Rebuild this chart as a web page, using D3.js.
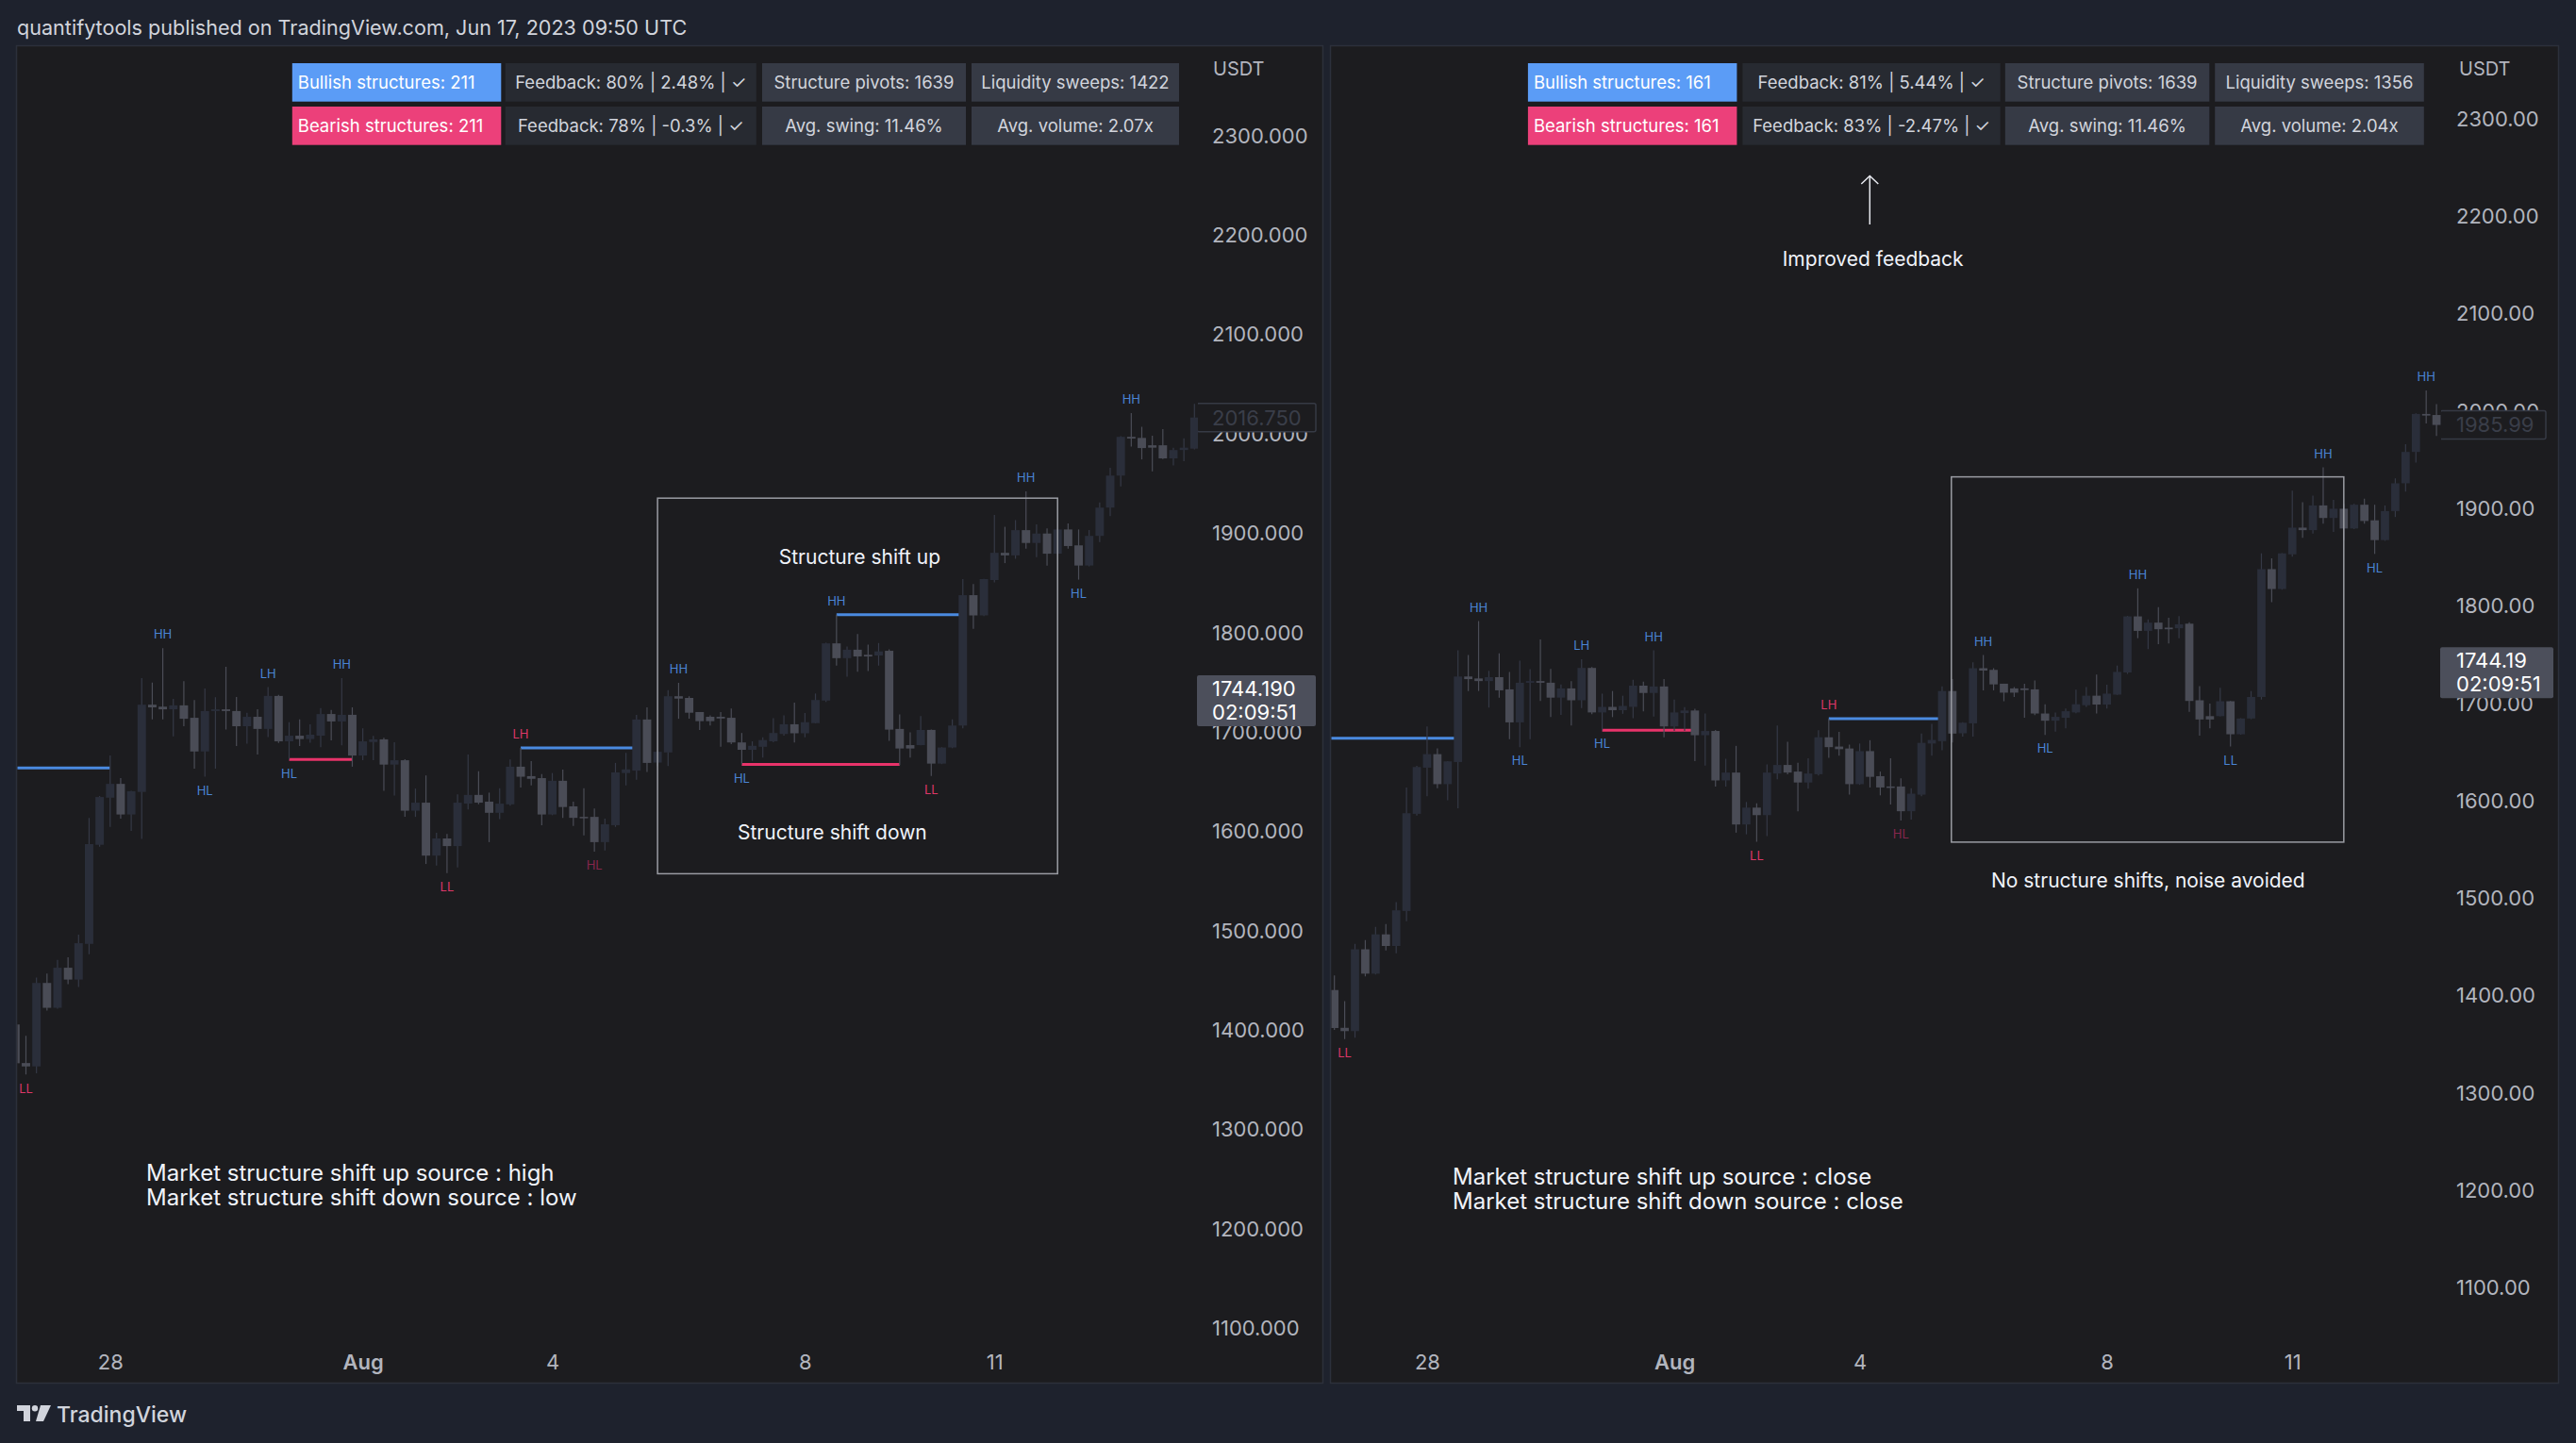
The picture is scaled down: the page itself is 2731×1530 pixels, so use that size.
<!DOCTYPE html>
<html>
<head>
<meta charset="utf-8">
<script src="https://cdn.jsdelivr.net/npm/d3@7"></script>
<style>
  body { margin: 0; background: #1e222d; }
  svg { display: block; }
</style>
</head>
<body>
<svg id="chart" width="2731" height="1530"></svg>
<script>
// 4h candles, index 0 = first full candle on the left (Jul 26 16:00)
var candleStart = -1
var opens = [
    1406.0,
    1367.2, 1363.8, 1447.8, 1422.8, 1463.1, 1451.2, 1487.1, 1586.8, 1634.2, 1648.1,
    1617.3, 1640.0, 1727.8, 1725.8, 1723.1, 1727.1, 1714.6, 1680.7, 1721.4, 1723.1,
    1721.4, 1706.1, 1715.6, 1703.4, 1736.6, 1690.9, 1696.6, 1693.2, 1696.6, 1718.4,
    1710.9, 1717.6, 1676.6, 1690.2, 1692.9, 1667.5, 1671.9, 1621.1, 1629.2, 1575.9,
    1593.2, 1585.5, 1628.2, 1637.0, 1630.2, 1619.0, 1627.5, 1665.4, 1655.9, 1653.9,
    1617.3, 1651.2, 1625.5, 1614.9, 1614.9, 1589.5, 1606.5, 1659.0, 1661.4, 1712.9,
    1669.5, 1679.7, 1736.3, 1734.6, 1720.4, 1715.6, 1715.6, 1714.6, 1689.8, 1682.4,
    1685.4, 1690.9, 1698.3, 1708.1, 1699.0, 1709.2, 1731.9, 1789.5, 1774.6, 1783.1,
    1778.0, 1777.3, 1782.0, 1703.4, 1687.1, 1687.1, 1702.4, 1668.5, 1684.7, 1706.8,
    1838.0, 1817.6, 1853.2, 1880.6, 1878.0, 1903.4, 1890.5, 1900.0, 1879.7, 1904.1,
    1888.1, 1867.8, 1897.6, 1926.1, 1958.3, 1997.3, 1996.2, 1988.8, 1988.8, 1975.6,
    1984.0, 1985.4
]
var highs = [
    1421.0,
    1394.6, 1453.3, 1457.3, 1470.9, 1473.6, 1496.3, 1613.9, 1636.0, 1676.6, 1653.9,
    1641.0, 1754.6, 1749.9, 1784.7, 1733.6, 1751.5, 1732.5, 1744.1, 1735.3, 1765.8,
    1735.6, 1719.7, 1723.1, 1745.4, 1737.6, 1710.2, 1712.9, 1708.1, 1724.4, 1722.4,
    1754.6, 1725.1, 1704.1, 1696.3, 1694.6, 1689.9, 1672.9, 1643.4, 1656.6, 1599.0,
    1597.6, 1637.6, 1677.6, 1660.7, 1639.3, 1643.8, 1672.6, 1684.4, 1670.9, 1658.0,
    1659.0, 1662.4, 1630.2, 1643.8, 1623.4, 1613.2, 1669.2, 1679.3, 1717.6, 1725.1,
    1681.0, 1742.4, 1749.8, 1736.3, 1720.4, 1717.0, 1720.4, 1723.8, 1699.3, 1690.9,
    1695.0, 1714.3, 1717.0, 1729.8, 1719.3, 1739.0, 1790.0, 1818.3, 1786.4, 1799.0,
    1788.1, 1789.8, 1783.4, 1718.0, 1700.0, 1716.3, 1702.7, 1685.0, 1712.9, 1854.2,
    1849.1, 1854.5, 1918.6, 1906.8, 1913.5, 1942.4, 1909.1, 1905.1, 1905.0, 1910.2,
    1904.1, 1903.4, 1931.2, 1966.1, 1998.0, 2021.3, 2007.4, 1998.3, 2005.1, 1986.4,
    1995.9, 2030.5
]
var lows = [
    1365.0,
    1355.6, 1357.0, 1420.0, 1422.0, 1446.5, 1443.8, 1476.6, 1585.0, 1604.8, 1613.2,
    1600.7, 1592.6, 1712.9, 1712.9, 1695.9, 1706.1, 1663.4, 1655.3, 1663.4, 1702.7,
    1686.1, 1688.5, 1677.6, 1695.3, 1689.2, 1672.6, 1686.1, 1689.5, 1685.1, 1691.9,
    1686.8, 1665.4, 1671.9, 1671.9, 1641.0, 1636.3, 1614.9, 1614.9, 1567.5, 1565.8,
    1558.3, 1564.1, 1622.4, 1627.5, 1589.5, 1612.6, 1626.1, 1644.4, 1646.5, 1606.5,
    1616.6, 1613.9, 1605.8, 1596.3, 1580.0, 1581.0, 1604.8, 1646.5, 1652.2, 1660.0,
    1666.0, 1666.1, 1713.6, 1713.6, 1702.4, 1706.8, 1685.4, 1688.1, 1667.8, 1671.2,
    1674.6, 1690.0, 1696.6, 1689.8, 1694.9, 1709.0, 1730.5, 1767.1, 1756.0, 1761.0,
    1761.7, 1767.1, 1691.5, 1667.0, 1674.6, 1687.0, 1656.0, 1668.0, 1684.0, 1704.1,
    1804.1, 1817.0, 1850.8, 1870.2, 1874.6, 1884.7, 1876.2, 1867.8, 1879.0, 1884.7,
    1853.6, 1867.0, 1891.5, 1917.6, 1947.4, 1987.4, 1974.6, 1962.7, 1975.0, 1968.5,
    1972.9, 1984.7
]
var closes = [
    1367.0,
    1363.8, 1447.8, 1422.8, 1463.1, 1451.2, 1487.8, 1587.5, 1634.9, 1648.1, 1617.3,
    1640.7, 1727.8, 1725.1, 1723.1, 1727.1, 1713.6, 1680.7, 1721.4, 1723.1, 1721.4,
    1706.1, 1715.6, 1703.4, 1736.6, 1690.9, 1696.6, 1693.2, 1697.6, 1718.4, 1710.9,
    1717.6, 1676.6, 1690.9, 1692.9, 1667.5, 1671.9, 1621.1, 1629.2, 1575.9, 1593.2,
    1585.5, 1629.2, 1637.0, 1629.2, 1619.0, 1628.2, 1665.4, 1655.3, 1653.2, 1617.3,
    1651.2, 1624.8, 1613.9, 1613.9, 1589.5, 1607.5, 1659.7, 1662.7, 1712.9, 1669.2,
    1680.4, 1736.3, 1733.9, 1719.7, 1711.2, 1711.2, 1713.9, 1689.8, 1682.4, 1686.4,
    1692.2, 1699.3, 1708.1, 1699.0, 1710.2, 1732.5, 1789.5, 1774.6, 1783.1, 1776.3,
    1776.3, 1781.4, 1702.7, 1683.7, 1683.7, 1702.4, 1668.5, 1684.7, 1706.8, 1838.0,
    1817.6, 1854.2, 1880.6, 1878.0, 1903.4, 1890.5, 1900.0, 1879.7, 1904.1, 1887.4,
    1867.8, 1897.6, 1926.1, 1958.3, 1997.3, 1995.6, 1985.99, 1986.4, 1975.6, 1984.0,
    1986.4, 2016.75
]

var priceTicks = [1100, 1200, 1300, 1400, 1500, 1600, 1700, 1800, 1900, 2000, 2100, 2200, 2300]
var dateTickIndex = [8, 32, 50, 74, 92]
var dateTickLabels = ["28", "Aug", "4", "8", "11"]
var currentPrice = 1744.19
var countdown = "02:09:51"

// structure pivots: [index, label, kind]
var pivotsLeft = [
    [0, "LL", "bear"], [13, "HH", "bull"], [17, "HL", "bull"], [23, "LH", "bull"],
    [25, "HL", "bull"], [30, "HH", "bull"], [40, "LL", "bear"], [47, "LH", "bear"],
    [54, "HL", "dim"], [62, "HH", "bull"], [68, "HL", "bull"], [77, "HH", "bull"],
    [86, "LL", "bear"], [95, "HH", "bull"], [100, "HL", "bull"], [105, "HH", "bull"]
]
var pivotsRight = [
    [0, "LL", "bear"], [13, "HH", "bull"], [17, "HL", "bull"], [23, "LH", "bull"],
    [25, "HL", "bull"], [30, "HH", "bull"], [40, "LL", "bear"], [47, "LH", "bear"],
    [54, "HL", "dim"], [62, "HH", "bull"], [68, "HL", "bull"], [77, "HH", "bull"],
    [86, "LL", "bull"], [95, "HH", "bull"], [100, "HL", "bull"], [105, "HH", "bull"]
]
// structure levels: [from index, to index, price, kind]
var levelsLeft = [
    [-3, 8, 1664.1, "bull"], [25, 31, 1672.6, "bear"],
    [47, 58, 1684.4, "bull"], [68, 83, 1667.8, "bear"], [77, 89, 1818.3, "bull"]
]
var levelsRight = [
    [-3, 11, 1664.5, "bull"], [25, 34, 1672.6, "bear"], [47, 58, 1684.4, "bull"]
]
var statsLeft = [
    ["Bullish structures: 211", "Feedback: 80% | 2.48% | \u2713", "Structure pivots: 1639", "Liquidity sweeps: 1422"],
    ["Bearish structures: 211", "Feedback: 78% | -0.3% | \u2713", "Avg. swing: 11.46%", "Avg. volume: 2.07x"]
]
var statsRight = [
    ["Bullish structures: 161", "Feedback: 81% | 5.44% | \u2713", "Structure pivots: 1639", "Liquidity sweeps: 1356"],
    ["Bearish structures: 161", "Feedback: 83% | -2.47% | \u2713", "Avg. swing: 11.46%", "Avg. volume: 2.04x"]
]

var font = "Inter, 'Noto Sans', sans-serif"
var kindColor = { bull: "#4a84d4", bear: "#de3768", dim: "#86264d" }
var lineColor = { bull: "#4a8ae0", bear: "#e8336a" }

var svg = d3.select("#chart")
svg.append("rect").attr("width", 2731).attr("height", 1530).attr("fill", "#1e222d")

svg.append("text")
    .attr("x", 18).attr("y", 37)
    .attr("fill", "#d1d4dc")
    .style("font-family", font).style("font-size", "21.6px")
    .text("quantifytools published on TradingView.com, Jun 17, 2023 09:50 UTC")

var candles = opens.map(function(o, k) {
    return { i: k + candleStart, o: o, h: highs[k], l: lows[k], c: closes[k] }
})

var panels = [{
    id: "left", x0: 17.5, x1: 1402.5, plotRight: 1270, last: 111, decimals: 3,
    x: d3.scaleLinear().domain([0, 111]).range([27.5, 1266.3]),
    y: d3.scaleLinear().domain([1100, 2300]).range([1408.7, 144.2]),
    axisX: 1285, usdtX: 1286,
    cells: [[309.8, 531.3], [535.7, 801.8], [808, 1024], [1030, 1250]],
    stats: statsLeft, pivots: pivotsLeft, levels: levelsLeft,
    box: [60, 98, 1935.6, 1557.7],
    boxNotes: [["Structure shift up", 79.2, 1876.3], ["Structure shift down", 76.6, 1599]],
    sourceNote: ["Market structure shift up source : high", "Market structure shift down source : low"],
    sourceX: 155, sourceY: 1252
}, {
    id: "right", x0: 1410.5, x1: 2712.5, plotRight: 2588, last: 106, decimals: 2,
    x: d3.scaleLinear().domain([0, 106]).range([1425.6, 2583.1]),
    y: d3.scaleLinear().domain([1100, 2300]).range([1365.8, 126.2]),
    axisX: 2604, usdtX: 2607,
    cells: [[1619.9, 1841.4], [1847.4, 2120.7], [2125.8, 2342.3], [2348.2, 2569.8]],
    stats: statsRight, pivots: pivotsRight, levels: levelsRight,
    box: [58.9, 97, 1932.7, 1557.8],
    boxNotes: [["No structure shifts, noise avoided", 78, 1519]],
    sourceNote: ["Market structure shift up source : close", "Market structure shift down source : close"],
    sourceX: 1540, sourceY: 1256
}]

var defs = svg.append("defs")

panels.forEach(function(p) {
    var g = svg.append("g").attr("class", "panel-" + p.id)
    var x = p.x, y = p.y
    var step = x(1) - x(0)
    var bodyW = step * 0.8

    g.append("rect")
        .attr("x", p.x0).attr("y", 48.5)
        .attr("width", p.x1 - p.x0).attr("height", 1418)
        .attr("fill", "#1c1c1f").attr("stroke", "#2c303b").attr("stroke-width", 1.5)

    defs.append("clipPath").attr("id", "plot-" + p.id)
        .append("rect").attr("x", p.x0 + 1).attr("y", 50)
        .attr("width", p.plotRight - p.x0 - 1).attr("height", 1366)
    defs.append("clipPath").attr("id", "axis-" + p.id)
        .append("rect").attr("x", p.plotRight).attr("y", 50)
        .attr("width", p.x1 - p.plotRight).attr("height", 1366)

    var plot = g.append("g").attr("clip-path", "url(#plot-" + p.id + ")")

    // structure level lines
    plot.selectAll("line.level").data(p.levels).enter().append("line")
        .attr("class", "level")
        .attr("x1", function(d) { return x(d[0]) })
        .attr("x2", function(d) { return x(d[1]) })
        .attr("y1", function(d) { return y(d[2]) })
        .attr("y2", function(d) { return y(d[2]) })
        .attr("stroke", function(d) { return lineColor[d[3]] })
        .attr("stroke-width", 3)

    var visible = candles.filter(function(d) { return d.i <= p.last })
    var cg = plot.selectAll("g.candle").data(visible).enter().append("g")
        .attr("class", "candle")
    cg.append("line")
        .attr("x1", function(d) { return x(d.i) })
        .attr("x2", function(d) { return x(d.i) })
        .attr("y1", function(d) { return y(d.h) })
        .attr("y2", function(d) { return y(d.l) })
        .attr("stroke", function(d) { return d.c >= d.o ? "#353946" : "#4b4d57" })
        .attr("stroke-width", 1.2)
    cg.append("rect")
        .attr("x", function(d) { return x(d.i) - bodyW / 2 })
        .attr("width", bodyW)
        .attr("y", function(d) { return y(Math.max(d.o, d.c)) })
        .attr("height", function(d) { return Math.max(1.5, Math.abs(y(d.o) - y(d.c))) })
        .attr("fill", function(d) { return d.c >= d.o ? "#2a2e3a" : "#4a4c56" })

    // highlighted region
    var b = p.box
    plot.append("rect")
        .attr("x", x(b[0])).attr("y", y(b[2]))
        .attr("width", x(b[1]) - x(b[0])).attr("height", y(b[3]) - y(b[2]))
        .attr("fill", "none").attr("stroke", "#9a9ca3").attr("stroke-width", 1.5)

    plot.selectAll("text.pivot").data(p.pivots).enter().append("text")
        .attr("class", "pivot")
        .attr("x", function(d) { return x(d[0]) })
        .attr("y", function(d) {
            var c = candles[d[0] - candleStart]
            var isHigh = d[1] == "HH" || d[1] == "LH"
            return isHigh ? y(c.h) - 14.5 : y(c.l) + 14.5
        })
        .attr("dy", "0.36em")
        .attr("text-anchor", "middle")
        .attr("fill", function(d) { return kindColor[d[2]] })
        .style("font-family", font).style("font-size", "13px")
        .text(function(d) { return d[1] })

    plot.selectAll("text.note").data(p.boxNotes).enter().append("text")
        .attr("class", "note")
        .attr("x", function(d) { return x(d[1]) })
        .attr("y", function(d) { return y(d[2]) })
        .attr("dy", "0.36em")
        .attr("text-anchor", "middle")
        .attr("fill", "#f0f3fa")
        .style("font-family", font).style("font-size", "21px")
        .text(function(d) { return d[0] })

    plot.selectAll("text.source").data(p.sourceNote).enter().append("text")
        .attr("class", "source")
        .attr("x", p.sourceX)
        .attr("y", function(d, i) { return p.sourceY + i * 25.6 })
        .attr("fill", "#f0f3fa")
        .style("font-family", font).style("font-size", "24px")
        .text(function(d) { return d })

    // stats table
    p.stats.forEach(function(row, r) {
        var ry = 67 + r * 46
        row.forEach(function(txt, c) {
            var cx = p.cells[c]
            var fill = c == 0 ? (r == 0 ? "#5b9cf6" : "#ec407a") : (c == 1 ? "#272a31" : "#363a45")
            g.append("rect")
                .attr("x", cx[0]).attr("y", ry)
                .attr("width", cx[1] - cx[0]).attr("height", 40.7)
                .attr("fill", fill)
            g.append("text")
                .attr("x", c == 0 ? cx[0] + 6 : (cx[0] + cx[1]) / 2)
                .attr("y", ry + 20.3).attr("dy", "0.36em")
                .attr("text-anchor", c == 0 ? "start" : "middle")
                .attr("fill", c == 0 ? "#ffffff" : "#d1d4dc")
                .style("font-family", font).style("font-size", "18.5px")
                .text(txt)
        })
    })

    // price axis
    var axisG = g.append("g").attr("clip-path", "url(#axis-" + p.id + ")")
    var yAxis = d3.axisRight(y).tickValues(priceTicks).tickSize(0).tickPadding(0)
        .tickFormat(d3.format("." + p.decimals + "f"))
    axisG.append("g")
        .attr("transform", "translate(" + p.axisX + ",0)")
        .call(yAxis)
        .attr("font-size", 22).attr("font-family", font)
        .call(function(a) {
            a.select(".domain").remove()
            a.selectAll("text").attr("fill", "#b2b5be")
        })

    g.append("text")
        .attr("x", p.usdtX).attr("y", 73).attr("dy", "0.36em")
        .attr("fill", "#b2b5be")
        .style("font-family", font).style("font-size", "20px")
        .text("USDT")

    // last bar close (faded)
    var lastClose = closes[p.last - candleStart]
    var ly = y(lastClose)
    axisG.append("rect")
        .attr("x", p.plotRight - 1).attr("y", ly - 15)
        .attr("width", p.id == "left" ? 126 : 112).attr("height", 30)
        .attr("fill", "#1c1c1f").attr("stroke", "#363a45").attr("stroke-width", 1.5).attr("rx", 2)
    axisG.append("text")
        .attr("x", p.axisX).attr("y", ly).attr("dy", "0.36em")
        .attr("fill", "#3a3e49")
        .style("font-family", font).style("font-size", "22px")
        .text(d3.format("." + p.decimals + "f")(lastClose))

    // current price + countdown
    var cy = y(currentPrice)
    g.append("rect")
        .attr("x", p.plotRight - 1).attr("y", cy - 14)
        .attr("width", p.id == "left" ? 126 : 120).attr("height", 54)
        .attr("fill", "#4c4f5b").attr("rx", 2)
    g.append("text")
        .attr("x", p.axisX).attr("y", cy).attr("dy", "0.36em")
        .attr("fill", "#ffffff")
        .style("font-family", font).style("font-size", "22px")
        .text(d3.format("." + p.decimals + "f")(currentPrice))
    g.append("text")
        .attr("x", p.axisX).attr("y", cy + 25).attr("dy", "0.36em")
        .attr("fill", "#ffffff")
        .style("font-family", font).style("font-size", "22px")
        .text(countdown)

    // time axis
    var xAxis = d3.axisBottom(x).tickValues(dateTickIndex).tickSize(0).tickPadding(0)
        .tickFormat(function(d, i) { return dateTickLabels[i] })
    g.append("g")
        .attr("transform", "translate(0,1436)")
        .call(xAxis)
        .attr("font-size", 22).attr("font-family", font)
        .call(function(a) {
            a.select(".domain").remove()
            a.selectAll("text").attr("fill", "#b2b5be")
                .attr("font-weight", function(d, i) { return dateTickLabels[i] == "Aug" ? 600 : 400 })
        })
})

// right panel callout
var call = svg.append("g")
call.append("line")
    .attr("x1", 1982.3).attr("x2", 1982.3).attr("y1", 238).attr("y2", 187)
    .attr("stroke", "#e8eaf0").attr("stroke-width", 1.5)
call.append("polyline")
    .attr("points", "1973.3,195 1982.3,186.5 1991.3,195")
    .attr("fill", "none").attr("stroke", "#e8eaf0").attr("stroke-width", 1.5)
call.append("text")
    .attr("x", 1985.7).attr("y", 282)
    .attr("text-anchor", "middle").attr("fill", "#f0f3fa")
    .style("font-family", font).style("font-size", "21px")
    .text("Improved feedback")

// footer logo
var logo = svg.append("g").attr("transform", "translate(18,1490)").attr("fill", "#d1d4dc")
logo.append("path").attr("d", "M0,0 H14 V17 H7 V6 H0 Z")
logo.append("circle").attr("cx", 19).attr("cy", 3.2).attr("r", 3.2)
logo.append("path").attr("d", "M25,0 H36 L28,17 H20 Z")
svg.append("text")
    .attr("x", 60).attr("y", 1508)
    .attr("fill", "#d1d4dc")
    .style("font-family", font).style("font-size", "23px").style("font-weight", 500)
    .text("TradingView")
</script>
</body>
</html>
